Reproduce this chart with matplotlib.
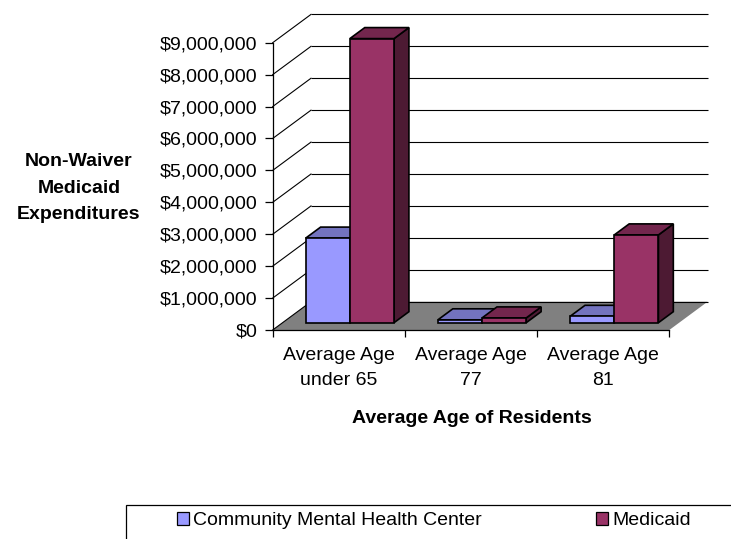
import matplotlib
matplotlib.use("Agg")
import matplotlib.pyplot as plt
from matplotlib.patches import Polygon, Rectangle, Patch
from matplotlib.ticker import FuncFormatter
from matplotlib.colors import to_rgb

# ---- data -------------------------------------------------------------
categories = ["Average Age\nunder 65", "Average Age\n77", "Average Age\n81"]
series_names = ["Community Mental Health Center", "Medicaid"]
cmhc_values = [2650000, 90000, 200000]
medicaid_values = [8900000, 150000, 2750000]
y_ticks = [0, 1000000, 2000000, 3000000, 4000000, 5000000,
           6000000, 7000000, 8000000, 9000000]

series_values = [cmhc_values, medicaid_values]
series_colors = ["#9999FF", "#993366"]

# ---- style ------------------------------------------------------------
plt.rcParams["font.family"] = ["Liberation Sans", "DejaVu Sans"]
FS = 14
W, H = 731, 539

fig = plt.figure(figsize=(W / 100, H / 100), dpi=100)
fig.patch.set_facecolor("white")

# front plane of the 3-D box (pixel layout of the plot area)
left_px, right_px, bottom_px, top_px = 272.7, 669.3, 330.0, 42.7
ax = fig.add_axes([left_px / W, 1 - bottom_px / H,
                   (right_px - left_px) / W, (bottom_px - top_px) / H])
ax.set_xlim(0, len(categories))
ax.set_ylim(0, y_ticks[-1])
ax.patch.set_visible(False)
for side in ("top", "right"):
    ax.spines[side].set_visible(False)
for side in ("left", "bottom"):
    ax.spines[side].set_color("black")
    ax.spines[side].set_linewidth(0.9)

# depth of the box, given in pixels and converted to data units
depth_px_x, depth_px_y = 38.3, 28.3
x_per_px = len(categories) / (right_px - left_px)
y_per_px = y_ticks[-1] / (bottom_px - top_px)
DX = depth_px_x * x_per_px
DY = depth_px_y * y_per_px


def proj(x, v, d):
    """Point at category position x, value v and depth fraction d."""
    return (x + d * DX, v + d * DY)


n_cat = len(categories)

# floor
floor = Polygon([proj(0, 0, 0), proj(n_cat, 0, 0), proj(n_cat, 0, 1),
                 proj(0, 0, 1)], closed=True, facecolor="#808080",
                edgecolor="none", zorder=1, clip_on=False)
ax.add_patch(floor)

# gridlines on the back wall and the side wall
for v in y_ticks:
    bx0, by = proj(0, v, 1)
    bx1, _ = proj(n_cat, v, 1)
    ax.plot([bx0, bx1], [by, by], color="black", lw=0.8, zorder=2,
            clip_on=False, solid_capstyle="butt")
    fx, fy = proj(0, v, 0)
    ax.plot([fx, bx0], [fy, by], color="black", lw=0.8, zorder=2,
            clip_on=False)


def shade(color, k):
    r, g, b = to_rgb(color)
    return (r * k, g * k, b * k)


# 3-D columns
bar_start, bar_w = 0.175, 0.334
f0, f1 = 0.258, 0.647
edge_kw = dict(edgecolor="black", linewidth=1.2, joinstyle="miter",
               clip_on=False)
z = 3
for i in range(n_cat):
    for s, vals in enumerate(series_values):
        x0 = i + bar_start + s * bar_w
        x1 = x0 + bar_w
        h = vals[i]
        col = series_colors[s]
        front = [proj(x0, 0, f0), proj(x1, 0, f0), proj(x1, h, f0),
                 proj(x0, h, f0)]
        top = [proj(x0, h, f0), proj(x1, h, f0), proj(x1, h, f1),
               proj(x0, h, f1)]
        side = [proj(x1, 0, f0), proj(x1, 0, f1), proj(x1, h, f1),
                proj(x1, h, f0)]
        ax.add_patch(Polygon(side, closed=True, facecolor=shade(col, 0.5),
                             zorder=z, **edge_kw))
        ax.add_patch(Polygon(top, closed=True, facecolor=shade(col, 0.75),
                             zorder=z, **edge_kw))
        ax.add_patch(Polygon(front, closed=True, facecolor=col,
                             zorder=z + 0.5, **edge_kw))
        z += 1

# axes ticks and labels
ax.set_yticks(y_ticks)
ax.yaxis.set_major_formatter(FuncFormatter(lambda v, p: "${:,.0f}".format(v)))
ax.tick_params(axis="y", direction="out", length=6, width=0.9, pad=5,
               labelsize=FS, colors="black")
ax.set_xticks(range(n_cat + 1))
ax.set_xticklabels([])
ax.set_xticks([i + 0.5 for i in range(n_cat)], minor=True)
ax.set_xticklabels(categories, minor=True)
ax.tick_params(axis="x", which="major", direction="out", length=4.8,
               width=0.9)
ax.tick_params(axis="x", which="minor", length=0, pad=12, labelsize=FS)
for lab in ax.get_xticklabels(minor=True):
    lab.set_linespacing(1.62)

# axis titles
for txt, base in zip(["Non-Waiver", "Medicaid", "Expenditures"],
                     [165.7, 193.3, 219.0]):
    fig.text(79 / W, 1 - base / H, txt, ha="center", va="baseline",
             fontsize=FS, fontweight="bold")
fig.text(472 / W, 1 - 423.3 / H, "Average Age of Residents", ha="center",
         va="baseline", fontsize=FS, fontweight="bold")

# legend
fig.patches.append(Rectangle((126 / W, 1 - 560 / H), 640 / W, 55 / H,
                             transform=fig.transFigure, facecolor="white",
                             edgecolor="black", linewidth=0.9, clip_on=False))
handles = [Patch(facecolor=c, edgecolor="black", linewidth=0.9)
           for c in series_colors]
fig.legend(handles, series_names, ncol=2, loc="upper left",
           bbox_to_anchor=(176.5 / W, 1 - 512 / H), frameon=False,
           borderpad=0, borderaxespad=0, handlelength=0.62,
           handleheight=0.68, handletextpad=0.22, columnspacing=5.9,
           fontsize=FS)

fig.savefig("out.png", dpi=100, facecolor="white")
